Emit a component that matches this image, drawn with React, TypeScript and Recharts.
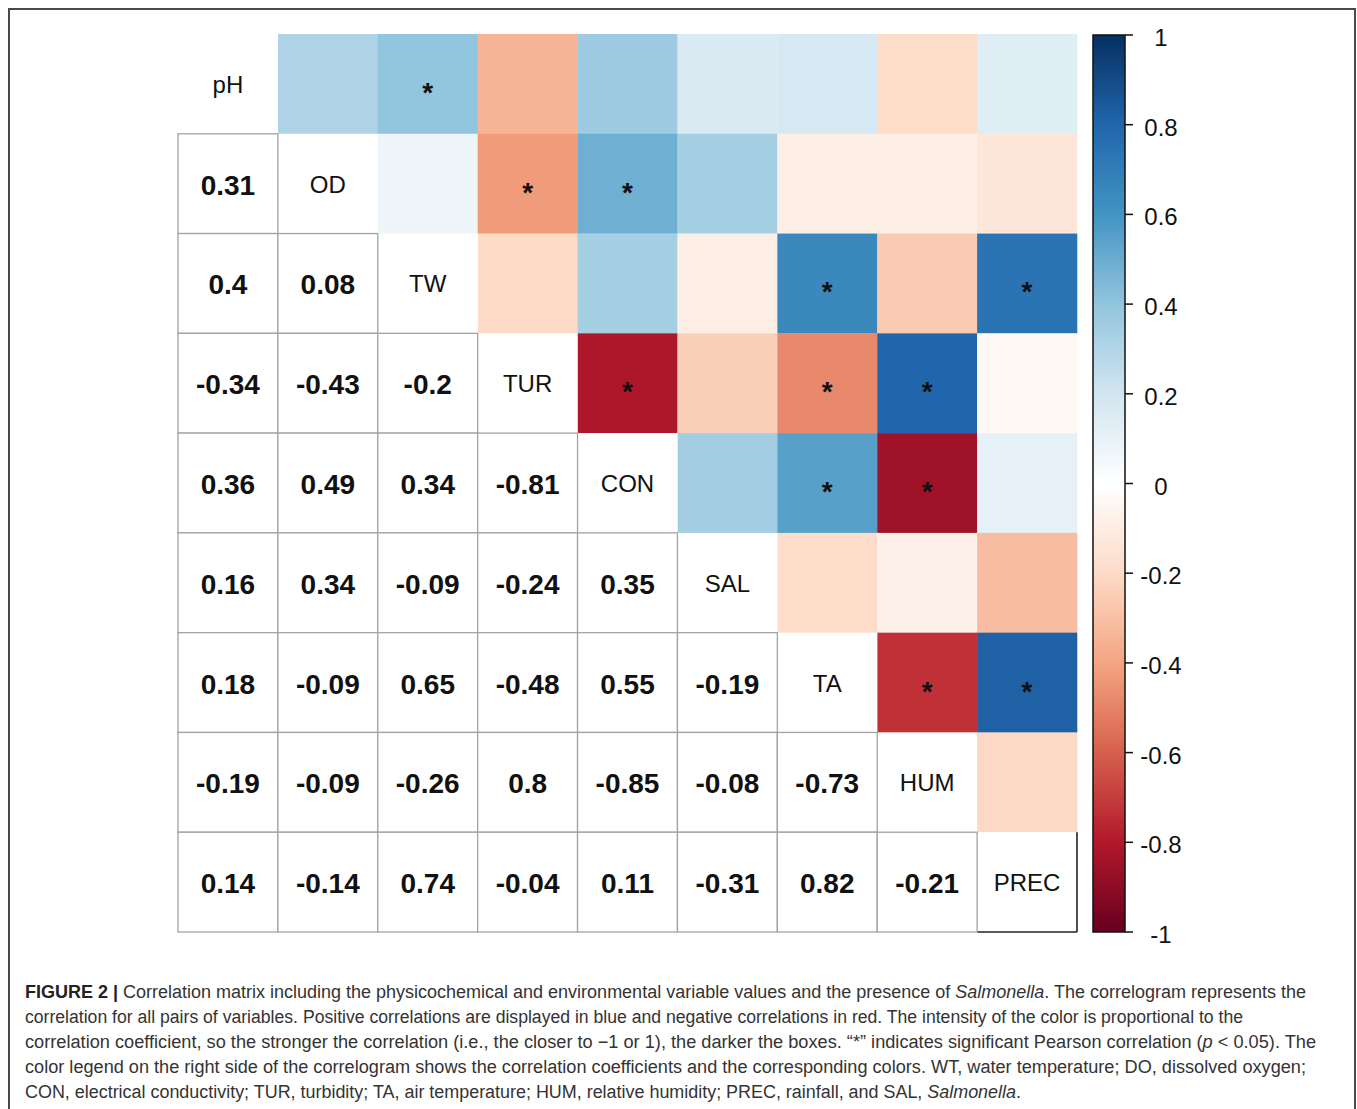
import React from 'react';
import { ScatterChart, Scatter, XAxis, YAxis, BarChart, Bar } from 'recharts';

// ---------- data ----------
const variables = ['pH', 'OD', 'TW', 'TUR', 'CON', 'SAL', 'TA', 'HUM', 'PREC'];

// lower-triangle correlation coefficients, one array per row (row variable vs. earlier variables)
const rowPH: number[] = [];
const rowOD = [0.31];
const rowTW = [0.4, 0.08];
const rowTUR = [-0.34, -0.43, -0.2];
const rowCON = [0.36, 0.49, 0.34, -0.81];
const rowSAL = [0.16, 0.34, -0.09, -0.24, 0.35];
const rowTA = [0.18, -0.09, 0.65, -0.48, 0.55, -0.19];
const rowHUM = [-0.19, -0.09, -0.26, 0.8, -0.85, -0.08, -0.73];
const rowPREC = [0.14, -0.14, 0.74, -0.04, 0.11, -0.31, 0.82, -0.21];
const lowerRows = [rowPH, rowOD, rowTW, rowTUR, rowCON, rowSAL, rowTA, rowHUM, rowPREC];

// pairs with significant Pearson correlation (p < 0.05)
const significantPairs = [
  ['pH', 'TW'], ['OD', 'TUR'], ['OD', 'CON'], ['TW', 'TA'], ['TW', 'PREC'],
  ['TUR', 'CON'], ['TUR', 'TA'], ['TUR', 'HUM'], ['CON', 'TA'], ['CON', 'HUM'],
  ['TA', 'HUM'], ['TA', 'PREC'],
];

const colorbarTicks = [1, 0.8, 0.6, 0.4, 0.2, 0, -0.2, -0.4, -0.6, -0.8, -1];
const colorbarData = [{ name: 'scale', range: [-1, 1] }];

// RdBu palette from -1 to 1
const paletteStops = ['#67001F', '#B2182B', '#D6604D', '#F4A582', '#FDDBC7', '#FFFFFF', '#D1E5F0', '#92C5DE', '#4393C3', '#2166AC', '#053061'];

const captionLines = [
  [{ t: 'FIGURE 2 | ', s: 'b' }, { t: 'Correlation matrix including the physicochemical and environmental variable values and the presence of ' }, { t: 'Salmonella', s: 'i' }, { t: '. The correlogram represents the' }],
  [{ t: 'correlation for all pairs of variables. Positive correlations are displayed in blue and negative correlations in red. The intensity of the color is proportional to the' }],
  [{ t: 'correlation coefficient, so the stronger the correlation (i.e., the closer to \u22121 or 1), the darker the boxes. \u201C*\u201D indicates significant Pearson correlation (' }, { t: 'p', s: 'i' }, { t: ' < 0.05). The' }],
  [{ t: 'color legend on the right side of the correlogram shows the correlation coefficients and the corresponding colors. WT, water temperature; DO, dissolved oxygen;' }],
  [{ t: 'CON, electrical conductivity; TUR, turbidity; TA, air temperature; HUM, relative humidity; PREC, rainfall, and SAL, ' }, { t: 'Salmonella', s: 'i' }, { t: '.' }],
];
const captionWidths = [1281, 1218, 1291, 1281, 996];

// ---------- helpers ----------
function hexToRgb(h: string) {
  const n = parseInt(h.slice(1), 16);
  return [(n >> 16) & 255, (n >> 8) & 255, n & 255];
}
function colorFor(v: number) {
  const pos = ((v + 1) / 2) * (paletteStops.length - 1);
  const i = Math.min(Math.floor(pos), paletteStops.length - 2);
  const f = pos - i;
  const a = hexToRgb(paletteStops[i]);
  const b = hexToRgb(paletteStops[i + 1]);
  const c = a.map((x, k) => Math.round(x + (b[k] - x) * f));
  return `rgb(${c[0]},${c[1]},${c[2]})`;
}
const isSig = (a: string, b: string) =>
  significantPairs.some(([p, q]) => (p === a && q === b) || (p === b && q === a));

type CellDatum = { x: number; y: number; v: number; label: string; sig: boolean; last: boolean };
const upperCells: CellDatum[] = [];
const diagCells: CellDatum[] = [];
const lowerCells: CellDatum[] = [];
variables.forEach((rv, i) => {
  variables.forEach((cv, j) => {
    const base = { x: j + 0.5, y: i + 0.5, label: '', sig: false, last: i === variables.length - 1 };
    if (j < i) lowerCells.push({ ...base, v: lowerRows[i][j] });
    else if (j > i) upperCells.push({ ...base, v: lowerRows[j][i], sig: isSig(rv, cv) });
    else diagCells.push({ ...base, v: 1, label: rv });
  });
});

// ---------- layout ----------
const N = variables.length;
const CHART_W = 903;
const CHART_H = 902;
const M = 2;
const CW = (CHART_W - 2 * M) / N;
const CH = (CHART_H - 2 * M) / N;
const FONT = '"Liberation Sans", Arial, Helvetica, sans-serif';

const UpperShape = (props: any) => {
  const { cx, cy, payload } = props;
  return (
    <g>
      <rect x={cx - CW / 2} y={cy - CH / 2} width={CW + 0.3} height={CH + 0.3} fill={colorFor(payload.v)} />
      {payload.sig && (
        <text x={cx} y={cy + 18} textAnchor="middle" fontSize={28} fontWeight="bold" fontFamily={FONT} fill="#111">*</text>
      )}
    </g>
  );
};

const DiagShape = (props: any) => {
  const { cx, cy, payload } = props;
  const x0 = cx - CW / 2, y0 = cy - CH / 2;
  return (
    <g>
      <rect x={x0} y={y0} width={CW} height={CH} fill="#ffffff" />
      <text x={cx} y={cy + 9} textAnchor="middle" fontSize={24} fontFamily={FONT} fill="#111">{payload.label}</text>
      {payload.last && (
        <g>
          <line x1={x0 + CW} y1={y0} x2={x0 + CW} y2={y0 + CH} stroke="#222" strokeWidth={1.6} />
          <line x1={x0} y1={y0 + CH} x2={x0 + CW} y2={y0 + CH} stroke="#222" strokeWidth={1.6} />
        </g>
      )}
    </g>
  );
};

const LowerShape = (props: any) => {
  const { cx, cy, payload } = props;
  return (
    <g>
      <rect x={cx - CW / 2} y={cy - CH / 2} width={CW} height={CH} fill="#ffffff" stroke="#a3a3a3" strokeWidth={1.3} />
      <text x={cx} y={cy + 11} textAnchor="middle" fontSize={28} fontWeight="bold" fontFamily={FONT} fill="#111">{String(payload.v)}</text>
    </g>
  );
};

const ColorbarTick = (props: any) => {
  const { x, y, payload } = props;
  return (
    <text x={x + 26} y={y + 11} textAnchor="middle" fontSize={24} fontFamily={FONT} fill="#111">{String(payload.value)}</text>
  );
};

export default function App() {
  return (
    <div style={{ fontFamily: FONT }}>
      {/* figure frame */}
      <div style={{ position: 'absolute', left: 8, top: 8, width: 1348, height: 1101, boxSizing: 'border-box', borderLeft: '2px solid #4a4a4a', borderTop: '2px solid #4a4a4a', borderRight: '2px solid #4a4a4a', background: '#fff' }} />

      {/* correlogram */}
      <div style={{ position: 'absolute', left: 176, top: 32 }}>
        <ScatterChart width={CHART_W} height={CHART_H} margin={{ top: M, right: M, bottom: M, left: M }}>
          <XAxis dataKey="x" type="number" domain={[0, N]} hide />
          <YAxis dataKey="y" type="number" domain={[0, N]} reversed hide />
          <Scatter data={upperCells} shape={UpperShape} isAnimationActive={false} />
          <Scatter data={diagCells} shape={DiagShape} isAnimationActive={false} />
          <Scatter data={lowerCells} shape={LowerShape} isAnimationActive={false} />
        </ScatterChart>
      </div>

      {/* colour legend */}
      <div style={{ position: 'absolute', left: 1085, top: 25 }}>
        <BarChart width={110} height={937} data={colorbarData} margin={{ top: 10, right: 0, bottom: 30, left: 8 }} barCategoryGap={0} barGap={0}>
          <defs>
            <linearGradient id="rdbuGrad" x1="0" y1="0" x2="0" y2="1">
              {paletteStops.slice().reverse().map((c, k) => (
                <stop key={k} offset={`${(k / (paletteStops.length - 1)) * 100}%`} stopColor={c} />
              ))}
            </linearGradient>
          </defs>
          <XAxis dataKey="name" type="category" hide />
          <YAxis
            type="number"
            domain={[-1, 1]}
            ticks={colorbarTicks}
            orientation="right"
            width={70}
            axisLine={false}
            tickLine={{ stroke: '#111', strokeWidth: 1.5 }}
            tickSize={8}
            tick={ColorbarTick}
            interval={0}
          />
          <Bar dataKey="range" fill="url(#rdbuGrad)" stroke="#111" strokeWidth={1.5} isAnimationActive={false} />
        </BarChart>
      </div>

      {/* caption */}
      <svg style={{ position: 'absolute', left: 0, top: 970 }} width={1340} height={138}>
        {captionLines.map((line, li) => (
          <text key={li} x={25} y={28 + li * 25} fontSize={18} fontFamily={FONT} fill="#333" textLength={captionWidths[li]} lengthAdjust="spacingAndGlyphs">
            {line.map((seg: any, si) => (
              <tspan key={si} fontWeight={seg.s === 'b' ? 'bold' : 'normal'} fontStyle={seg.s === 'i' ? 'italic' : 'normal'} fill={seg.s === 'b' ? '#222' : '#333'}>{seg.t}</tspan>
            ))}
          </text>
        ))}
      </svg>
    </div>
  );
}
